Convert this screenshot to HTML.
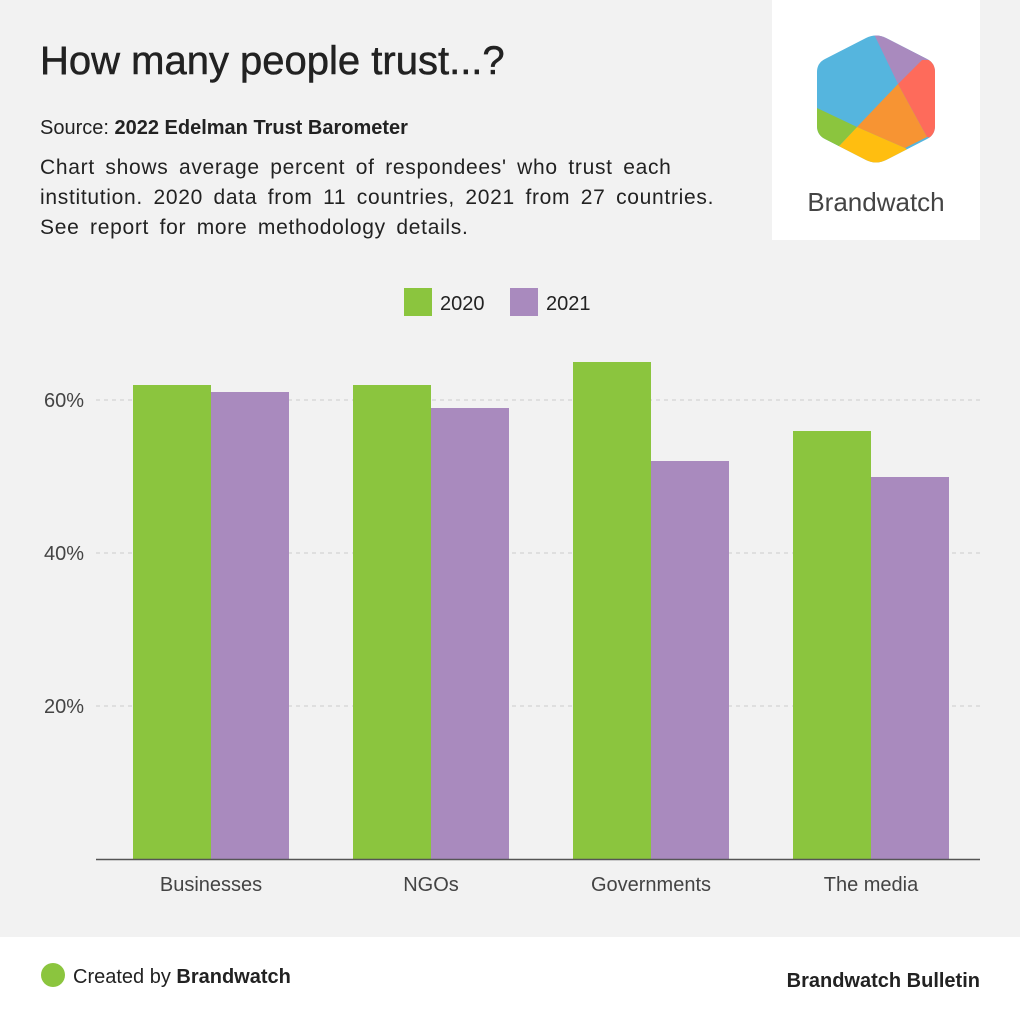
<!DOCTYPE html>
<html><head><meta charset="utf-8"><style>
body{margin:0;width:1020px;height:1020px;background:#f2f2f2;font-family:"Liberation Sans",Arial,sans-serif;position:relative;overflow:hidden;color:#222}
.a{position:absolute}
</style></head><body>
<div class="a" style="left:40px;top:39px;font-size:40px;color:#222;-webkit-text-stroke:0.5px #222">How many people trust...?</div>
<div class="a" style="left:40px;top:117px;font-size:20px">Source: <b>2022 Edelman Trust Barometer</b></div>
<div class="a" style="left:40px;top:153px;font-size:21px;line-height:30px;white-space:nowrap;letter-spacing:0.7px;word-spacing:4px">Chart shows average percent of respondees' who trust each<br>institution. 2020 data from 11 countries, 2021 from 27 countries.<br>See report for more methodology details.</div>
<div class="a" style="left:772px;top:0;width:208px;height:240px;background:#fff"></div>
<svg class="a" style="left:0;top:0" width="1020" height="1020">
<defs><clipPath id="h"><path d="M866,38 Q876,33 886,38 L927,59 Q935,63 935,72 L935,126 Q935,135 927,139 L886,160 Q876,165 866,160 L825,139 Q817,135 817,126 L817,72 Q817,63 825,59 Z"/></clipPath></defs>
<g clip-path="url(#h)">
<rect x="810" y="30" width="130" height="140" fill="#55b5de"/>
<polygon points="872,30 898,84 922,60 940,60 940,30" fill="#a98abe"/>
<polygon points="922,60 940,60 940,140 927,137 898,84" fill="#fe6b5b"/>
<polygon points="898,84 927,137 905,148 857,127" fill="#f79433"/>
<polygon points="857,127 905,148 940,170 810,170 840,145" fill="#ffbe10"/>
<polygon points="810,108 817,108 857,127 840,145 810,170" fill="#8bc53e"/>
</g>
<text x="876" y="211" font-size="26" fill="#444" text-anchor="middle" font-family="Liberation Sans">Brandwatch</text>
<rect x="404" y="288" width="28" height="28" fill="#8bc53e"/>
<text x="440" y="310" font-size="20" fill="#222">2020</text>
<rect x="510" y="288" width="28" height="28" fill="#a98abe"/>
<text x="546" y="310" font-size="20" fill="#222">2021</text>
<g stroke="#ccc" stroke-dasharray="4,4"><line x1="96" y1="400" x2="980" y2="400"/><line x1="96" y1="553" x2="980" y2="553"/><line x1="96" y1="706" x2="980" y2="706"/></g>
<g font-size="20" fill="#444" text-anchor="end"><text x="84" y="407">60%</text><text x="84" y="560">40%</text><text x="84" y="713">20%</text></g>
<g fill="#8bc53e"><rect x="133" y="385" width="78" height="474"/><rect x="353" y="385" width="78" height="474"/><rect x="573" y="362" width="78" height="497"/><rect x="793" y="431" width="78" height="428"/></g>
<g fill="#a98abe"><rect x="211" y="392" width="78" height="467"/><rect x="431" y="408" width="78" height="451"/><rect x="651" y="461" width="78" height="398"/><rect x="871" y="477" width="78" height="382"/></g>
<line x1="96" y1="859.5" x2="980" y2="859.5" stroke="#555" stroke-width="1.5"/>
<g font-size="20" fill="#444" text-anchor="middle"><text x="211" y="891">Businesses</text><text x="431" y="891">NGOs</text><text x="651" y="891">Governments</text><text x="871" y="891">The media</text></g>
<rect x="0" y="937" width="1020" height="83" fill="#fff"/>
<circle cx="53" cy="975" r="12" fill="#8bc53e"/>
<text x="73" y="983" font-size="20" fill="#222">Created by <tspan font-weight="bold">Brandwatch</tspan></text>
<text x="980" y="987" font-size="20" font-weight="bold" fill="#222" text-anchor="end">Brandwatch Bulletin</text>
</svg>
</body></html>
